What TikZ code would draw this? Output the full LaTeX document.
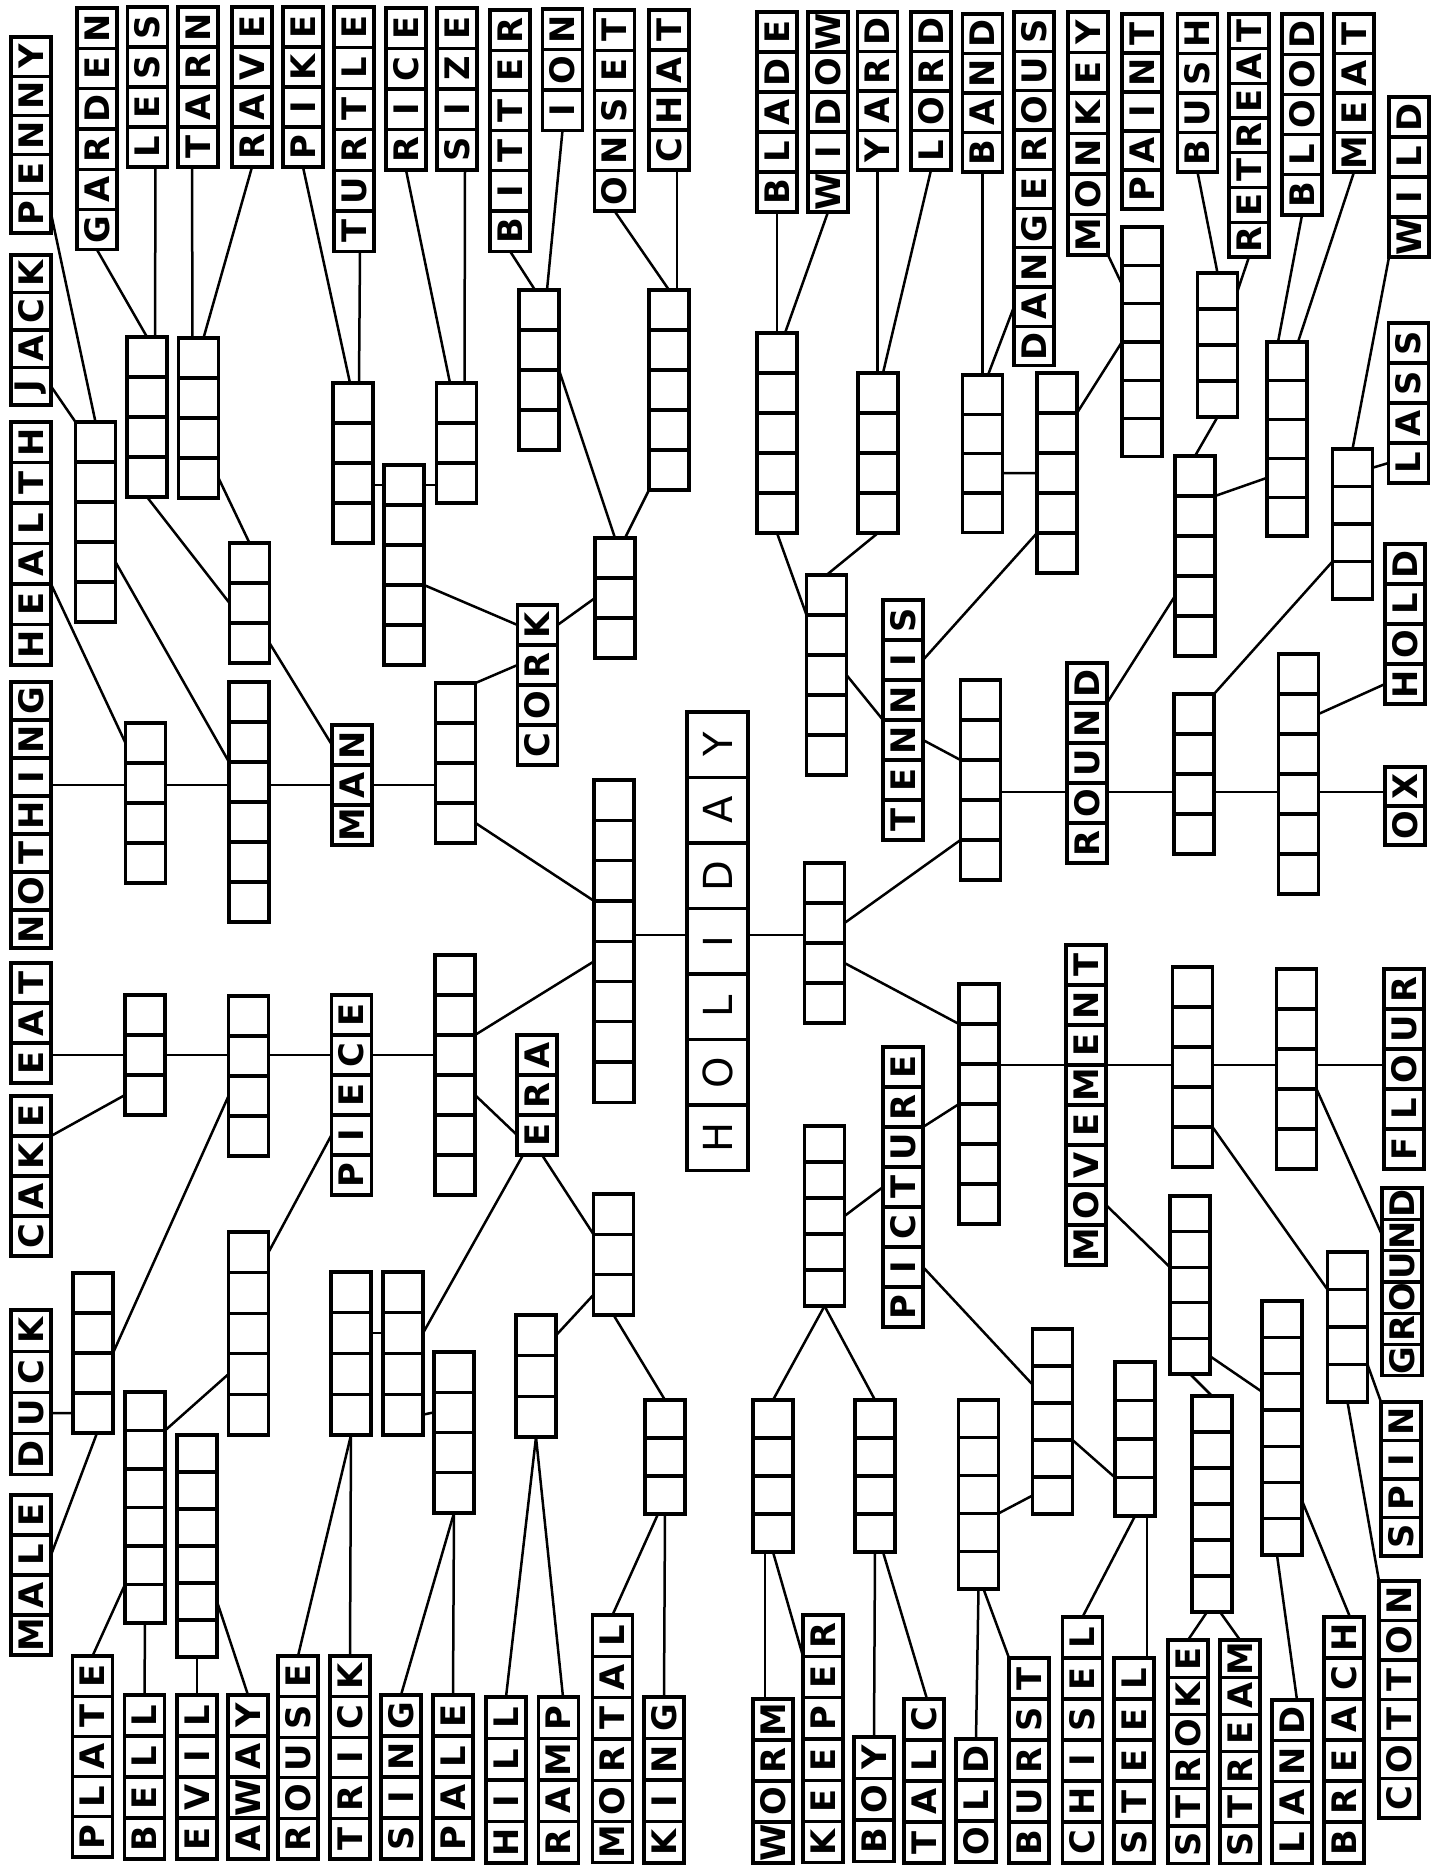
\documentclass[tikz,border=0pt]{standalone}
\usepackage{fontspec}
\setmainfont{DejaVu Sans}
\tikzset{
  cell/.style={draw, line width=1.3pt, fill=white, minimum width=16pt, inner sep=0pt, outer sep=0pt, font=\bfseries\fontsize{13.5}{13.5}\selectfont},
  hcell/.style={draw, line width=1.3pt, fill=white, minimum width=24.4pt, minimum height=26.2pt, inner sep=0pt, outer sep=0pt, font=\fontsize{16}{16}\selectfont},
  con/.style={line width=1pt, line cap=round},
}
\newcommand\wb[5]{%
  \foreach \ch [count=\k] in {#5} {%
    \node[cell, minimum height={#4*0.4pt}] (#1-\k) at (#2,{#3+#4*(\k-0.5)}) {\rotatebox{90}{\ch}};
  }}
\newcommand\eb[5]{%
  \foreach \k in {1,...,#5} {%
    \node[cell, minimum height={#4*0.4pt}] (#1-\k) at (#2,{#3+#4*(\k-0.5)}) {};
  }}
\begin{document}
\begin{tikzpicture}[x=0.4pt,y=-0.4pt]
\useasboundingbox (0,0) rectangle (1443,1866);
\fill[white] (0,0) rectangle (1443,1866);
% ---------- left column
\wb{wPENNY}{31}{37}{39.2}{Y,N,N,E,P}
\wb{wJACK}{31}{255}{37.5}{K,C,A,J}
\wb{wHEALTH}{31}{422}{40.5}{H,T,L,A,E,H}
\wb{wNOTHING}{31}{682}{38}{G,N,I,H,T,O,N}
\wb{wEAT}{31}{963}{40}{T,A,E}
\wb{wCAKE}{31}{1096}{40}{E,K,A,C}
\wb{wDUCK}{31}{1310}{41.2}{K,C,U,D}
\wb{wMALE}{31}{1495}{40}{E,L,A,M}
% ---------- top row
\wb{wGARDEN}{97}{8}{40.3}{N,E,D,R,A,G}
\wb{wLESS}{147.5}{7}{40}{S,S,E,L}
\wb{wTARN}{198}{7}{40}{N,R,A,T}
\wb{wRAVE}{252}{7}{40}{E,V,A,R}
\wb{wPIKE}{303}{7}{40}{E,K,I,P}
\wb{wTURTLE}{354}{7}{40.8}{E,L,T,R,U,T}
\wb{wRICE}{406}{8}{40.5}{E,C,I,R}
\wb{wSIZE}{457}{8}{40.5}{E,Z,I,S}
\wb{wBITTER}{510}{10}{40.2}{R,E,T,T,I,B}
\wb{wION}{562.5}{9}{40.5}{N,O,I}
\wb{wONSET}{614.5}{10}{40.2}{T,E,S,N,O}
\wb{wCHAT}{669}{10}{40}{T,A,H,C}
\wb{wBLADE}{777}{12}{40}{E,D,A,L,B}
\wb{wWIDOW}{828}{12}{40}{W,O,D,I,W}
\wb{wYARD}{877.5}{12}{39.5}{D,R,A,Y}
\wb{wLORD}{931}{12}{39.5}{D,R,O,L}
\wb{wBAND}{982.5}{14}{39.5}{D,N,A,B}
\wb{wDANGEROUS}{1034}{12}{39.3}{S,U,O,R,E,G,N,A,D}
\wb{wMONKEY}{1088}{12}{40.5}{Y,E,K,N,O,M}
\wb{wPAINT}{1142}{14}{39}{T,N,I,A,P}
\wb{wBUSH}{1197.5}{14}{39.5}{H,S,U,B}
\wb{wRETREAT}{1249}{14}{34.7}{T,A,E,R,T,E,R}
\wb{wBLOOD}{1302}{14}{40.2}{D,O,O,L,B}
\wb{wMEAT}{1354}{14}{39.5}{T,A,E,M}
% ---------- right column
\wb{wWILD}{1409}{97}{40}{D,L,I,W}
\wb{wLASS}{1408.5}{323}{40}{S,S,A,L}
\wb{wHOLD}{1405}{544}{40}{D,L,O,H}
\wb{wOX}{1405}{767}{39}{X,O}
\wb{wFLOUR}{1404}{969}{40}{R,U,O,L,F}
\wb{wGROUND}{1402}{1188}{31.3}{D,N,U,O,R,G}
\wb{wSPIN}{1401}{1402}{38.5}{N,I,P,S}
\wb{wCOTTON}{1399}{1581}{39.5}{N,O,T,T,O,C}
% ---------- bottom row
\wb{wPLATE}{92.5}{1656}{40.2}{E,T,A,L,P}
\wb{wBELL}{144.5}{1695}{41}{L,L,E,B}
\wb{wEVIL}{197}{1695}{41}{L,I,V,E}
\wb{wAWAY}{248}{1695}{41}{Y,A,W,A}
\wb{wROUSE}{298}{1656}{40.6}{E,S,U,O,R}
\wb{wTRICK}{350}{1656}{40.6}{K,C,I,R,T}
\wb{wSING}{401}{1695}{41}{G,N,I,S}
\wb{wPALE}{453}{1695}{41}{E,L,A,P}
\wb{wHILL}{506}{1697}{41.5}{L,L,I,H}
\wb{wRAMP}{558.5}{1697}{41.5}{P,M,A,R}
\wb{wMORTAL}{612.5}{1615}{41.3}{L,A,T,R,O,M}
\wb{wKING}{664}{1697}{41.5}{G,N,I,K}
\wb{wWORM}{773}{1699}{41}{M,R,O,W}
\wb{wKEEPER}{823}{1615}{41.3}{R,E,P,E,E,K}
\wb{wBOY}{874}{1737}{41.5}{Y,O,B}
\wb{wTALC}{924}{1699}{41}{C,L,A,T}
\wb{wOLD}{976}{1739}{41}{D,L,O}
\wb{wBURST}{1029}{1658}{41}{T,S,R,U,B}
\wb{wCHISEL}{1082.5}{1617}{41}{L,E,S,I,H,C}
\wb{wSTEEL}{1134}{1658}{41}{L,E,E,T,S}
\wb{wSTROKE}{1188}{1640}{37.2}{E,K,O,R,T,S}
\wb{wSTREAM}{1240}{1640}{37.2}{M,A,E,R,T,S}
\wb{wLAND}{1292}{1700}{40.8}{D,N,A,L}
\wb{wBREACH}{1344}{1617}{41}{H,C,A,E,R,B}
% ---------- inner words
\wb{wMAN}{352}{725}{40}{N,A,M}
\wb{wCORK}{537.5}{605}{40}{K,R,O,C}
\wb{wTENNIS}{903}{600}{40}{S,I,N,N,E,T}
\wb{wROUND}{1087}{663}{40}{D,N,U,O,R}
\wb{wMOVEMENT}{1086}{945}{40}{T,N,E,M,E,V,O,M}
\wb{wPICTURE}{903}{1047}{40}{E,R,U,T,C,I,P}
\wb{wERA}{537}{1035}{40}{A,R,E}
\wb{wPIECE}{351.5}{995}{40}{E,C,E,I,P}
\foreach \ch [count=\k] in {Y,A,D,I,L,O,H}
  \node[hcell] (wHOLIDAY-\k) at (717.5,{712+65.5*(\k-0.5)}) {\rotatebox{90}{\ch}};
% ---------- empty boxes
\eb{bA}{95.5}{422}{40}{5}
\eb{bB}{249}{682}{40}{6}
\eb{bC}{145.5}{723}{40}{4}
\eb{bD}{249.5}{543}{40}{3}
\eb{bE}{198.5}{338}{40}{4}
\eb{bF}{147}{337}{40}{4}
\eb{bG}{353}{383}{40}{4}
\eb{bH}{456.5}{383}{40}{3}
\eb{bI}{404}{465}{40}{5}
\eb{bU1}{455.5}{683}{40}{4}
\eb{bJ}{615}{538}{40}{3}
\eb{bK}{539}{290}{40}{4}
\eb{bL}{669}{290}{40}{5}
\eb{bL0}{614}{780}{40.3}{8}
\eb{bR0}{824.5}{863}{40}{4}
\eb{bM}{777}{333}{40}{5}
\eb{bN}{878}{373}{40}{4}
\eb{bO}{826.5}{575}{40}{5}
\eb{bP}{980.5}{680}{40}{5}
\eb{bZ1}{982.5}{375}{39.3}{4}
\eb{bZ2}{1057}{373}{40}{5}
\eb{bZ3}{1142}{227}{38.3}{6}
\eb{bZ4}{1217.5}{273}{36}{4}
\eb{bZ5}{1287}{342}{38.8}{5}
\eb{bZ6}{1195}{456}{40}{5}
\eb{bZ7}{1352.5}{449}{37.5}{4}
\eb{bS}{1194}{694}{40}{4}
\eb{bU}{1298.5}{654}{40}{6}
\eb{bQ}{979}{984}{40}{6}
\eb{bW}{1192.5}{967}{40}{5}
\eb{bX}{1296.5}{969}{40}{5}
\eb{bY}{1347.5}{1252}{37.5}{4}
\eb{bAA}{824.5}{1126}{36}{5}
\eb{bAB}{773}{1400}{38}{4}
\eb{bAC}{875}{1400}{38}{4}
\eb{bCA}{978.5}{1400}{37.8}{5}
\eb{bCB}{1052.5}{1329}{37}{5}
\eb{bCC}{1135}{1362}{38.5}{4}
\eb{bCD}{1190}{1196}{35.6}{5}
\eb{bCE}{1212}{1396}{36}{6}
\eb{bCF}{1282}{1301}{36.3}{7}
\eb{bD1}{455}{955}{40}{6}
\eb{bAF}{613.5}{1194}{40.3}{3}
\eb{bAD}{665}{1400}{38}{3}
\eb{bAE}{536}{1315}{40.7}{3}
\eb{bBA}{145}{995}{40}{3}
\eb{bBB}{248.5}{996}{40}{4}
\eb{bBC}{93}{1273}{40}{4}
\eb{bBD}{248.5}{1232}{40.6}{5}
\eb{bBE}{145}{1392}{38.5}{6}
\eb{bBF}{197}{1435}{37}{6}
\eb{bBG}{351}{1272}{40.75}{4}
\eb{bBH}{403}{1272}{40.75}{4}
\eb{bBI}{454}{1352}{40.25}{4}
% ---------- rows of horizontal links
\coordinate (hA) at (0,785);
\coordinate (hB) at (0,485);
\coordinate (hH) at (0,935);
\coordinate (hR) at (0,792);
\coordinate (hM) at (0,1065);
\coordinate (hP) at (0,1055);
% ---------- connectors
\begin{scope}[con]
% upper left
\draw (wPENNY-5.east) -- (bA-1.north);
\draw (wJACK-4.east) -- (bA-1.north west);
\draw (wGARDEN-6.south) -- (bF-1.north);
\draw ([xshift=3.2pt]wLESS-4.south) -- ([xshift=3.2pt]bF-1.north);
\draw ([xshift=-2.4pt]wTARN-4.south) -- ([xshift=-2.4pt]bE-1.north);
\draw (wRAVE-4.south) -- ([xshift=2pt]bE-1.north);
\draw (bF-4.south) -- (bD-2.west);
\draw (bE-4.east) -- (bD-1.north);
\draw (bD-3.east) -- (wMAN-1.west);
\draw (bA-4.east) -- (bB-3.north west);
\draw (wHEALTH-5.north east) -- (bC-1.west);
\draw (wNOTHING-1.east |- hA) -- (bC-1.west |- hA);
\draw (bC-1.east |- hA) -- (bB-1.west |- hA);
\draw (bB-1.east |- hA) -- (wMAN-1.west |- hA);
\draw (wMAN-1.east |- hA) -- (bU1-1.west |- hA);
\draw (wPIKE-4.south) -- ([xshift=-1.2pt]bG-1.north);
\draw ([xshift=2.4pt]wTURTLE-6.south) -- ([xshift=2.4pt]bG-1.north);
\draw (wRICE-4.south) -- ([xshift=-2.6pt]bH-1.north);
\draw ([xshift=3.2pt]wSIZE-4.south) -- ([xshift=3.2pt]bH-1.north);
\draw (bG-1.east |- hB) -- (bI-1.west |- hB);
\draw (bI-1.east |- hB) -- (bH-1.west |- hB);
\draw (bI-3.south east) -- (wCORK-1.west);
\draw (bU1-1.north east) -- (wCORK-2.west);
\draw (bU1-4.east) -- (bL0-4.north west);
\draw (wCORK-1.east) -- (bJ-2.west);
\draw (bK-3.north east) -- (bJ-1.north);
\draw (bL-5.south west) -- ([xshift=4pt]bJ-1.north);
\draw (wBITTER-6.south) -- ([xshift=-1.6pt]bK-1.north);
\draw (wION-3.south) -- ([xshift=3.2pt]bK-1.north);
\draw (wONSET-5.south) -- (bL-1.north);
\draw ([xshift=3.2pt]wCHAT-4.south) -- ([xshift=3.2pt]bL-1.north);
% centre
\draw (bL0-4.east |- hH) -- (wHOLIDAY-4.west |- hH);
\draw (wHOLIDAY-4.east |- hH) -- (bR0-2.west |- hH);
\draw (bD1-2.south east) -- (bL0-5.west);
% upper right
\draw (wBLADE-5.south) -- (bM-1.north);
\draw (wWIDOW-5.south) -- ([xshift=3.2pt]bM-1.north);
\draw (wYARD-4.south) -- (wYARD-4.south |- bN-1.north);
\draw (wLORD-4.south) -- ([xshift=2pt]bN-1.north);
\draw (bM-5.south) -- (bO-1.south west);
\draw (bN-4.south) -- (bO-1.north);
\draw (bO-3.east) -- (wTENNIS-3.south west);
\draw (wTENNIS-2.east) -- (bZ2-5.north west);
\draw (wTENNIS-4.east) -- (bP-3.north west);
\draw (bR0-2.east) -- (bP-5.north west);
\draw (bR0-3.east) -- (bQ-1.south west);
\draw (wPICTURE-3.north east) -- (bQ-4.north west);
\draw (bP-1.east |- hR) -- (wROUND-1.west |- hR);
\draw (wROUND-1.east |- hR) -- (bS-1.west |- hR);
\draw (bS-1.east |- hR) -- (bU-1.west |- hR);
\draw (bU-1.east |- hR) -- (wOX-1.west |- hR);
\draw (wROUND-1.south east) -- (bZ6-4.west);
\draw (bS-1.north east) -- (bZ7-3.south west);
\draw (bU-2.east) -- (wHOLD-4.west);
\draw (bZ1-3.east) -- (bZ2-3.west);
\draw (wBAND-4.south) -- (bZ1-1.north);
\draw (wDANGEROUS-8.west) -- ([xshift=2.2pt]bZ1-1.north);
\draw (bZ2-2.north east) -- (bZ3-4.north west);
\draw (wMONKEY-6.south east) -- (bZ3-2.west);
\draw (wBUSH-4.south) -- (bZ4-1.north);
\draw (wRETREAT-7.south) -- (bZ4-1.east);
\draw (bZ4-4.south) -- (bZ6-1.north);
\draw (bZ5-4.west) -- (bZ6-2.north east);
\draw (wBLOOD-5.south) -- ([xshift=-3.6pt]bZ5-1.north);
\draw (wMEAT-4.south) -- ([xshift=4.4pt]bZ5-1.north);
\draw (wWILD-4.south west) -- (bZ7-1.north);
\draw (wLASS-4.west) -- (bZ7-1.east);
% lower right
\draw (bQ-1.east |- hM) -- (wMOVEMENT-1.west |- hM);
\draw (wMOVEMENT-1.east |- hM) -- (bW-1.west |- hM);
\draw (bW-1.east |- hM) -- (bX-1.west |- hM);
\draw (bX-1.east |- hM) -- (wFLOUR-1.west |- hM);
\draw (wMOVEMENT-7.east) -- (bCD-2.south west);
\draw (bW-4.south east) -- (bY-1.south west);
\draw (bX-3.south east) -- (wGROUND-2.west);
\draw (bY-4.north east) -- (wSPIN-1.north west);
\draw (bY-4.south) -- (wCOTTON-1.north west);
\draw (bCD-5.south) -- (bCE-1.north);
\draw (bCD-5.east) -- (bCF-3.west);
\draw ([xshift=-2pt]bCE-6.south) -- (wSTROKE-1.north);
\draw ([xshift=3.2pt]bCE-6.south) -- (wSTREAM-1.north);
\draw ([xshift=-2pt]bCF-7.south) -- ([xshift=2pt]wLAND-1.north);
\draw (bCF-6.east) -- ([xshift=2.4pt]wBREACH-1.north);
\draw (bCA-5.south) -- (wOLD-1.north);
\draw ([xshift=2pt]bCA-5.south) -- (wBURST-1.north west);
\draw (bCA-4.north east) -- (bCB-5.west);
\draw (wPICTURE-6.east) -- (bCB-2.west);
\draw (bCB-4.north east) -- (bCC-3.south west);
\draw (bCC-4.south) -- (wCHISEL-1.north);
\draw ([xshift=4.8pt]bCC-4.south) -- ([xshift=5.2pt]wSTEEL-1.north);
\draw (wPICTURE-4.west) -- (bAA-3.east);
\draw (bAA-5.south) -- (bAB-1.north);
\draw (bAA-5.south) -- (bAC-1.north);
\draw ([xshift=-3.2pt]bAB-4.south) -- ([xshift=-3.2pt]wWORM-1.north);
\draw (bAB-4.south) -- (wKEEPER-1.south west);
\draw (bAC-4.south) -- (wBOY-1.north);
\draw ([xshift=3.2pt]bAC-4.south) -- ([xshift=1.2pt]wTALC-1.north);
% lower left
\draw ([xshift=-2.8pt]bAD-3.south) -- (wMORTAL-1.north);
\draw (bAD-3.south) -- (wKING-1.north);
\draw (bAE-3.south) -- (wHILL-1.north);
\draw (bAE-3.south) -- ([xshift=1.8pt]wRAMP-1.north);
\draw (bAF-3.west) -- (bAE-1.east);
\draw (bAF-3.south) -- (bAD-1.north);
\draw ([xshift=2pt]wERA-3.south) -- (bAF-1.south west);
\draw ([xshift=2.4pt]wERA-3.south west) -- (bBH-2.east);
\draw (bD1-4.east) -- (wERA-3.west);
\draw (wEAT-1.east |- hP) -- (bBA-1.west |- hP);
\draw (bBA-1.east |- hP) -- (bBB-1.west |- hP);
\draw (bBB-1.east |- hP) -- (wPIECE-1.west |- hP);
\draw (wPIECE-1.east |- hP) -- (bD1-1.west |- hP);
\draw (wCAKE-1.south east) -- (bBA-3.west);
\draw (bBB-3.west) -- (bBC-3.north east);
\draw (wPIECE-4.west) -- (bBD-1.east);
\draw (bBD-4.west) -- (bBE-2.north east);
\draw (wDUCK-3.east) -- (bBC-4.west);
\draw (wMALE-2.east) -- ([xshift=1.6pt]bBC-4.south);
\draw (bBE-5.south west) -- (wPLATE-1.north);
\draw (bBE-6.south) -- (wBELL-1.north);
\draw (bBF-6.south) -- (wEVIL-1.north);
\draw (bBF-5.east) -- (wAWAY-1.north);
\draw (bBG-4.south) -- (wROUSE-1.north);
\draw (bBG-4.south) -- (wTRICK-1.north);
\draw (bBG-2.east) -- (bBH-2.west);
\draw (bBH-4.east) -- (bBI-2.west);
\draw (bBI-4.south) -- (wSING-1.north);
\draw (bBI-4.south) -- (wPALE-1.north);
\end{scope}
\end{tikzpicture}
\end{document}
